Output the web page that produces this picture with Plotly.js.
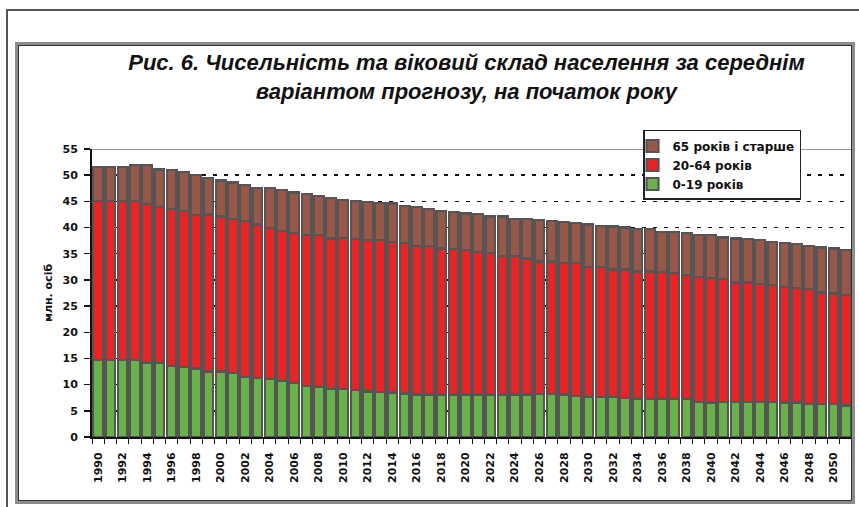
<!DOCTYPE html>
<html lang="uk">
<head>
  <meta charset="UTF-8">
  <title>Рис. 6</title>
  <script src="https://cdn.plot.ly/plotly-3.0.1.min.js"></script>
  <style>
    * { margin: 0; padding: 0; box-sizing: border-box; }
    body { width: 859px; height: 507px; background: #fff; position: relative; overflow: hidden; }
    #chart { position: absolute; left: 0; top: 0; width: 859px; height: 507px; }
    .frame { position: absolute; pointer-events: none; }
    #outer { left: 6px; top: 9px; width: 900px; height: 600px; border-left: 2px solid #555; border-top: 2px solid #555; }
    #inner { left: 15px; top: 42px; width: 840px; height: 462px; border: 3px solid #8c8c8c; box-shadow: inset 0 0 0 1px #333; }
  </style>
</head>
<body>
  <div id="chart"></div>
  <div class="frame" id="outer"></div>
  <div class="frame" id="inner"></div>

  <script>
    // роки 1990-2051, млн осіб на початок року
    const years = [];
    for (let y = 1990; y <= 2051; y++) years.push(y);

    const age0_19 = [14.7, 14.7, 14.7, 14.7, 14.1, 14.1, 13.6, 13.3, 13.1, 12.5,
      12.5, 12.2, 11.5, 11.2, 11.1, 10.7, 10.3, 9.7, 9.6, 9.2,
      9.1, 9.0, 8.7, 8.6, 8.5, 8.3, 8.1, 8.1, 8.1, 8.1,
      8.1, 8.1, 8.1, 8.1, 8.1, 8.1, 8.2, 8.2, 8.1, 7.9,
      7.6, 7.6, 7.6, 7.4, 7.2, 7.2, 7.2, 7.2, 7.2, 6.7,
      6.6, 6.7, 6.7, 6.7, 6.7, 6.7, 6.6, 6.6, 6.3, 6.3,
      6.3, 6.0];

    const age20_64 = [30.4, 30.4, 30.3, 30.3, 30.4, 29.9, 29.9, 29.9, 29.3, 30.0,
      29.6, 29.4, 29.7, 29.4, 28.8, 28.7, 28.6, 28.9, 29.0, 28.7,
      28.9, 28.8, 28.9, 29.0, 28.8, 28.7, 28.4, 28.4, 27.9, 27.8,
      27.6, 27.3, 27.0, 26.5, 26.5, 26.0, 25.3, 25.3, 25.1, 25.3,
      24.9, 24.9, 24.4, 24.6, 24.4, 24.4, 24.3, 24.1, 23.7, 23.9,
      23.8, 23.4, 22.8, 22.8, 22.5, 22.3, 22.1, 21.9, 21.9, 21.3,
      21.1, 21.1];

    const age65plus = [6.4, 6.4, 6.6, 7.0, 7.5, 7.1, 7.5, 7.4, 7.6, 7.0,
      6.9, 7.0, 6.9, 7.0, 7.6, 7.8, 7.8, 7.8, 7.4, 7.7,
      7.3, 7.3, 7.3, 7.1, 7.3, 7.1, 7.5, 7.0, 7.2, 7.1,
      7.0, 7.2, 7.0, 7.5, 7.0, 7.5, 7.9, 7.7, 7.9, 7.6,
      8.1, 7.8, 8.2, 8.0, 8.1, 8.1, 7.7, 7.9, 8.0, 8.0,
      8.2, 8.0, 8.4, 8.3, 8.4, 8.3, 8.4, 8.3, 8.3, 8.6,
      8.6, 8.6];

    const labelYears = [];
    for (let y = 1990; y <= 2050; y += 2) labelYears.push(y);

    const names = ['0-19 років', '20-64 років', '65 років і старше'];
    const colors = ['#67b347', '#ee2222', '#9a5646'];
    const series = [age0_19, age20_64, age65plus];

    const font = 'DejaVu Sans, Verdana, sans-serif';

    let traces = series.map((vals, i) => ({
      type: 'bar',
      x: years,
      y: vals,
      name: names[i],
      marker: { color: colors[i], line: { color: '#555', width: 2.2 } }
    }));

    let layout = {
      width: 859,
      height: 507,
      barmode: 'stack',
      bargap: 0.2,
      paper_bgcolor: 'rgba(0,0,0,0)',
      plot_bgcolor: '#fff',
      margin: { l: 92, r: 7, t: 149, b: 70 },
      title: {
        text: '<b><i>Рис. 6. Чисельність та віковий склад населення за середнім</i></b><br><b><i>варіантом прогнозу, на початок року</i></b>',
        font: { family: 'Liberation Sans, Arial, sans-serif', size: 22, color: '#111' },
        x: 0.543, xanchor: 'center',
        y: 0.862, yanchor: 'top'
      },
      xaxis: {
        type: 'linear',
        range: [1989.5, 2051.5],
        tickvals: labelYears,
        ticks: '',
        tickangle: -90,
        tickfont: { family: font, size: 11, color: '#111', weight: 'bold' },
        ticklabelstandoff: 9,
        showline: true, linecolor: '#111', linewidth: 2,
        showgrid: false, zeroline: false,
        minor: { ticks: 'outside', tick0: 1989.5, dtick: 1, ticklen: 5, tickcolor: '#111', tickwidth: 1, showgrid: false }
      },
      yaxis: {
        range: [0, 55],
        dtick: 5,
        ticks: 'outside', ticklen: 6, tickcolor: '#111', tickwidth: 1.5,
        tickfont: { family: font, size: 11, color: '#111', weight: 'bold' },
        ticklabelstandoff: 4,
        showline: true, linecolor: '#111', linewidth: 2,
        showgrid: true, gridcolor: '#111', gridwidth: 1.5, griddash: '4px,7px',
        zeroline: false,
        title: { text: 'млн. осіб', font: { family: font, size: 11, color: '#111', weight: 'bold' }, standoff: 8 }
      },
      shapes: [
        { type: 'line', xref: 'paper', yref: 'y', x0: 0, x1: 1, y0: 55, y1: 55, line: { color: '#999', width: 2 }, layer: 'above' }
      ],
      legend: {
        x: 0.725, xanchor: 'left',
        y: 1.066, yanchor: 'top',
        traceorder: 'reversed',
        indentation: -12,
        bgcolor: '#fff',
        bordercolor: '#222', borderwidth: 1.5,
        font: { family: font, size: 12, color: '#111', weight: 'bold' }
      },
      showlegend: true
    };

    Plotly.newPlot('chart', traces, layout, { displayModeBar: false, staticPlot: true });
  </script>
</body>
</html>
